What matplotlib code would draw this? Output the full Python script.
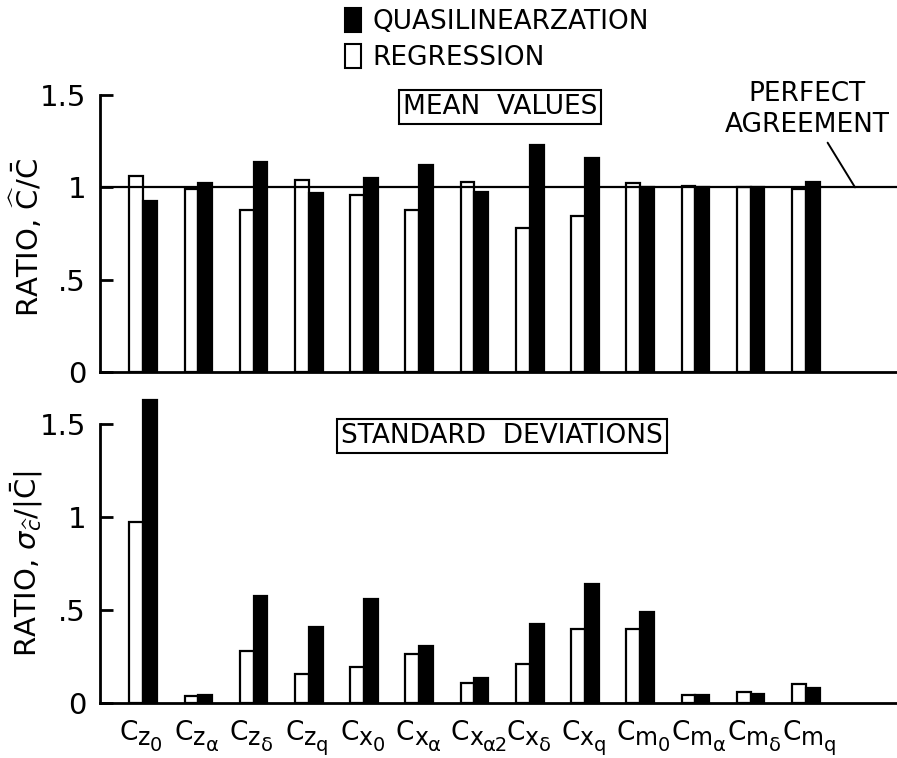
import matplotlib
matplotlib.use("Agg")
from matplotlib import pyplot as plt
from matplotlib.patches import Patch
import numpy as np

plt.rcParams['font.family'] = ['DejaVu Sans']
plt.rcParams['mathtext.fontset'] = 'dejavusans'

# parameter names along the x axis: C with a first and a second subscript
sub1 = ['z', 'z', 'z', 'z', 'x', 'x', 'x', 'x', 'x', 'm', 'm', 'm', 'm']
sub2 = ['0', 'α', 'δ', 'q', '0', 'α', 'α2', 'δ', 'q', '0', 'α', 'δ', 'q']

# mean values, ratio c_hat / c_bar
mean_regr = [1.06, 0.99, 0.875, 1.04, 0.96, 0.875, 1.03, 0.78, 0.845, 1.025, 1.005, 1.0, 0.99]
mean_quasi = [0.925, 1.025, 1.135, 0.97, 1.05, 1.12, 0.975, 1.23, 1.16, 1.0, 1.0, 1.0, 1.03]

# standard deviations, ratio sigma / |c_bar|
std_regr = [0.975, 0.035, 0.28, 0.155, 0.195, 0.265, 0.11, 0.21, 0.40, 0.40, 0.045, 0.06, 0.10]
std_quasi = [1.63, 0.045, 0.575, 0.41, 0.56, 0.305, 0.135, 0.425, 0.64, 0.49, 0.045, 0.05, 0.08]

x = np.arange(len(sub1))
w = 0.25
lw = 1.6

fig = plt.figure(figsize=(8.97, 7.58), dpi=100)
W, H = 897.0, 758.0
ax1 = fig.add_axes([100/W, 1-372/H, 797/W, 277/H])
ax2 = fig.add_axes([100/W, 1-703/H, 797/W, 307/H])

for ax, regr, quasi in [(ax1, mean_regr, mean_quasi), (ax2, std_regr, std_quasi)]:
    ax.bar(x - w/2, regr, w, color='white', edgecolor='black', linewidth=lw, zorder=2)
    ax.bar(x + w/2, quasi, w, color='black', edgecolor='black', linewidth=lw, zorder=2)
    ax.set_xlim(-0.78, 13.65)
    ax.spines['top'].set_visible(False)
    ax.spines['right'].set_visible(False)
    ax.spines['left'].set_linewidth(2)
    ax.spines['bottom'].set_linewidth(2)
    ax.spines['left'].set_bounds(0, 1.5)
    ax.set_yticks([0, 0.5, 1, 1.5])
    ax.set_yticklabels(['0', '.5', '1', '1.5'])
    ax.tick_params(axis='y', direction='in', length=9.5, width=2, pad=10, labelsize=21)
    ax.set_xticks([])

ax1.set_ylim(0, 1.5)
ax2.set_ylim(0, 1.65)

# x labels drawn by hand so the subscripts stay big like the lettering in the original
for i in x:
    c = ax2.annotate('C', xy=(i, 0), xycoords=ax2.get_xaxis_transform(),
                     xytext=(-17, -12), textcoords='offset points',
                     ha='left', va='top', fontsize=19)
    s1 = ax2.annotate(sub1[i], xy=(1, 0), xycoords=c, xytext=(0, -3),
                      textcoords='offset points', ha='left', va='bottom', fontsize=17)
    ax2.annotate(sub2[i], xy=(1, 0), xycoords=s1, xytext=(0, -4),
                 textcoords='offset points', ha='left', va='bottom', fontsize=14)

# line at ratio = 1
ax1.axhline(1.0, color='black', linewidth=1.6, zorder=3)

ax1.set_ylabel(r'RATIO, $\widehat{\mathrm{C}}/\bar{\mathrm{C}}$', fontsize=21)
ax2.set_ylabel(r'RATIO, $\sigma_{\widehat{c}}/|\bar{\mathrm{C}}|$', fontsize=21)
ax1.yaxis.set_label_coords(-55/797, 0.487)
ax2.yaxis.set_label_coords(-55/797, 0.453)

ax1.annotate('PERFECT\nAGREEMENT', xy=(12.89, 1.0), xytext=(12.02, 1.424),
             ha='center', va='center', fontsize=19, multialignment='center',
             linespacing=1.25,
             arrowprops=dict(arrowstyle='-', color='black', lw=1.4, shrinkA=2, shrinkB=0))

box = dict(boxstyle='square,pad=0.15', fc='white', ec='black', lw=1.5)
fig.text(500/W, 1-107/H, 'MEAN  VALUES', ha='center', va='center', fontsize=19, bbox=box)
fig.text(502/W, 1-436/H, 'STANDARD  DEVIATIONS', ha='center', va='center', fontsize=19, bbox=box)

handles = [Patch(facecolor='black', edgecolor='black', linewidth=1.5),
           Patch(facecolor='white', edgecolor='black', linewidth=1.5)]
fig.legend(handles, ['QUASILINEARZATION', 'REGRESSION'], loc='upper left',
           bbox_to_anchor=(345/W, 1-8/H), frameon=False, fontsize=19,
           handlelength=0.6, handleheight=1.0, handletextpad=0.45,
           labelspacing=0.35, borderpad=0, borderaxespad=0)

plt.savefig('out.png', dpi=100)
plt.close('all')
